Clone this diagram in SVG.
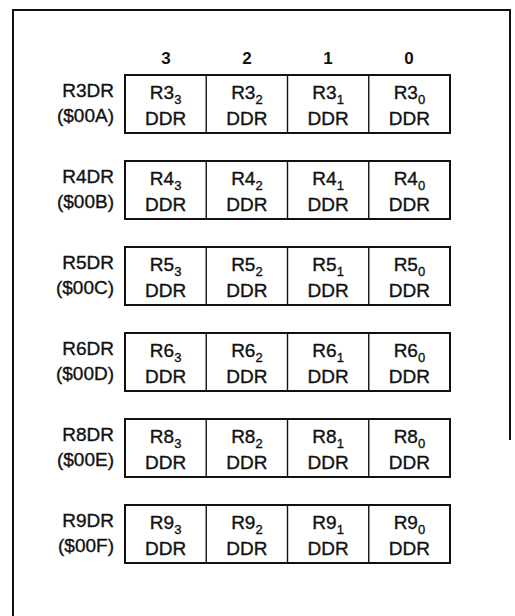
<svg xmlns="http://www.w3.org/2000/svg" width="515" height="616" viewBox="0 0 515 616">
<style>
text{font-family:"Liberation Sans",Arial,sans-serif;font-size:19px;fill:#111;stroke:#111;stroke-width:0.35;}
.hd{text-anchor:middle;font-size:17px;font-weight:bold;stroke-width:0;}
.lb{text-anchor:end;}
.c{text-anchor:middle;}
.sub{font-size:13px;}
.box{fill:none;stroke:#111;stroke-width:2;}
.div{stroke:#111;stroke-width:1.4;}
.frame{fill:none;stroke:#111;stroke-width:2;}
</style>
<rect width="515" height="616" fill="#fff"/>
<g id="frame">
<polyline class="frame" points="13,616 13,10 510,10 510,440"/>
</g>
<g id="headers">
<text class="hd" x="166" y="64">3</text>
<text class="hd" x="247" y="64">2</text>
<text class="hd" x="328" y="64">1</text>
<text class="hd" x="409" y="64">0</text>
</g>
<g id="connectors"></g>
<g id="R3DR" transform="translate(0,75)">
<text class="lb" x="114" y="22">R3DR</text><text class="lb" x="114" y="47">($00A)</text>
<rect class="box" x="125" y="0" width="325" height="58"/>
<line class="div" x1="206.25" y1="0" x2="206.25" y2="58"/><line class="div" x1="287.5" y1="0" x2="287.5" y2="58"/><line class="div" x1="368.75" y1="0" x2="368.75" y2="58"/>
<text class="c" x="165.6" y="24">R3<tspan class="sub" dy="5">3</tspan></text><text class="c" x="165.6" y="50">DDR</text>
<text class="c" x="246.9" y="24">R3<tspan class="sub" dy="5">2</tspan></text><text class="c" x="246.9" y="50">DDR</text>
<text class="c" x="328.1" y="24">R3<tspan class="sub" dy="5">1</tspan></text><text class="c" x="328.1" y="50">DDR</text>
<text class="c" x="409.4" y="24">R3<tspan class="sub" dy="5">0</tspan></text><text class="c" x="409.4" y="50">DDR</text>
</g>
<g id="R4DR" transform="translate(0,161)">
<text class="lb" x="114" y="22">R4DR</text><text class="lb" x="114" y="47">($00B)</text>
<rect class="box" x="125" y="0" width="325" height="58"/>
<line class="div" x1="206.25" y1="0" x2="206.25" y2="58"/><line class="div" x1="287.5" y1="0" x2="287.5" y2="58"/><line class="div" x1="368.75" y1="0" x2="368.75" y2="58"/>
<text class="c" x="165.6" y="24">R4<tspan class="sub" dy="5">3</tspan></text><text class="c" x="165.6" y="50">DDR</text>
<text class="c" x="246.9" y="24">R4<tspan class="sub" dy="5">2</tspan></text><text class="c" x="246.9" y="50">DDR</text>
<text class="c" x="328.1" y="24">R4<tspan class="sub" dy="5">1</tspan></text><text class="c" x="328.1" y="50">DDR</text>
<text class="c" x="409.4" y="24">R4<tspan class="sub" dy="5">0</tspan></text><text class="c" x="409.4" y="50">DDR</text>
</g>
<g id="R5DR" transform="translate(0,247)">
<text class="lb" x="114" y="22">R5DR</text><text class="lb" x="114" y="47">($00C)</text>
<rect class="box" x="125" y="0" width="325" height="58"/>
<line class="div" x1="206.25" y1="0" x2="206.25" y2="58"/><line class="div" x1="287.5" y1="0" x2="287.5" y2="58"/><line class="div" x1="368.75" y1="0" x2="368.75" y2="58"/>
<text class="c" x="165.6" y="24">R5<tspan class="sub" dy="5">3</tspan></text><text class="c" x="165.6" y="50">DDR</text>
<text class="c" x="246.9" y="24">R5<tspan class="sub" dy="5">2</tspan></text><text class="c" x="246.9" y="50">DDR</text>
<text class="c" x="328.1" y="24">R5<tspan class="sub" dy="5">1</tspan></text><text class="c" x="328.1" y="50">DDR</text>
<text class="c" x="409.4" y="24">R5<tspan class="sub" dy="5">0</tspan></text><text class="c" x="409.4" y="50">DDR</text>
</g>
<g id="R6DR" transform="translate(0,333)">
<text class="lb" x="114" y="22">R6DR</text><text class="lb" x="114" y="47">($00D)</text>
<rect class="box" x="125" y="0" width="325" height="58"/>
<line class="div" x1="206.25" y1="0" x2="206.25" y2="58"/><line class="div" x1="287.5" y1="0" x2="287.5" y2="58"/><line class="div" x1="368.75" y1="0" x2="368.75" y2="58"/>
<text class="c" x="165.6" y="24">R6<tspan class="sub" dy="5">3</tspan></text><text class="c" x="165.6" y="50">DDR</text>
<text class="c" x="246.9" y="24">R6<tspan class="sub" dy="5">2</tspan></text><text class="c" x="246.9" y="50">DDR</text>
<text class="c" x="328.1" y="24">R6<tspan class="sub" dy="5">1</tspan></text><text class="c" x="328.1" y="50">DDR</text>
<text class="c" x="409.4" y="24">R6<tspan class="sub" dy="5">0</tspan></text><text class="c" x="409.4" y="50">DDR</text>
</g>
<g id="R8DR" transform="translate(0,419)">
<text class="lb" x="114" y="22">R8DR</text><text class="lb" x="114" y="47">($00E)</text>
<rect class="box" x="125" y="0" width="325" height="58"/>
<line class="div" x1="206.25" y1="0" x2="206.25" y2="58"/><line class="div" x1="287.5" y1="0" x2="287.5" y2="58"/><line class="div" x1="368.75" y1="0" x2="368.75" y2="58"/>
<text class="c" x="165.6" y="24">R8<tspan class="sub" dy="5">3</tspan></text><text class="c" x="165.6" y="50">DDR</text>
<text class="c" x="246.9" y="24">R8<tspan class="sub" dy="5">2</tspan></text><text class="c" x="246.9" y="50">DDR</text>
<text class="c" x="328.1" y="24">R8<tspan class="sub" dy="5">1</tspan></text><text class="c" x="328.1" y="50">DDR</text>
<text class="c" x="409.4" y="24">R8<tspan class="sub" dy="5">0</tspan></text><text class="c" x="409.4" y="50">DDR</text>
</g>
<g id="R9DR" transform="translate(0,505)">
<text class="lb" x="114" y="22">R9DR</text><text class="lb" x="114" y="47">($00F)</text>
<rect class="box" x="125" y="0" width="325" height="58"/>
<line class="div" x1="206.25" y1="0" x2="206.25" y2="58"/><line class="div" x1="287.5" y1="0" x2="287.5" y2="58"/><line class="div" x1="368.75" y1="0" x2="368.75" y2="58"/>
<text class="c" x="165.6" y="24">R9<tspan class="sub" dy="5">3</tspan></text><text class="c" x="165.6" y="50">DDR</text>
<text class="c" x="246.9" y="24">R9<tspan class="sub" dy="5">2</tspan></text><text class="c" x="246.9" y="50">DDR</text>
<text class="c" x="328.1" y="24">R9<tspan class="sub" dy="5">1</tspan></text><text class="c" x="328.1" y="50">DDR</text>
<text class="c" x="409.4" y="24">R9<tspan class="sub" dy="5">0</tspan></text><text class="c" x="409.4" y="50">DDR</text>
</g>
</svg>
